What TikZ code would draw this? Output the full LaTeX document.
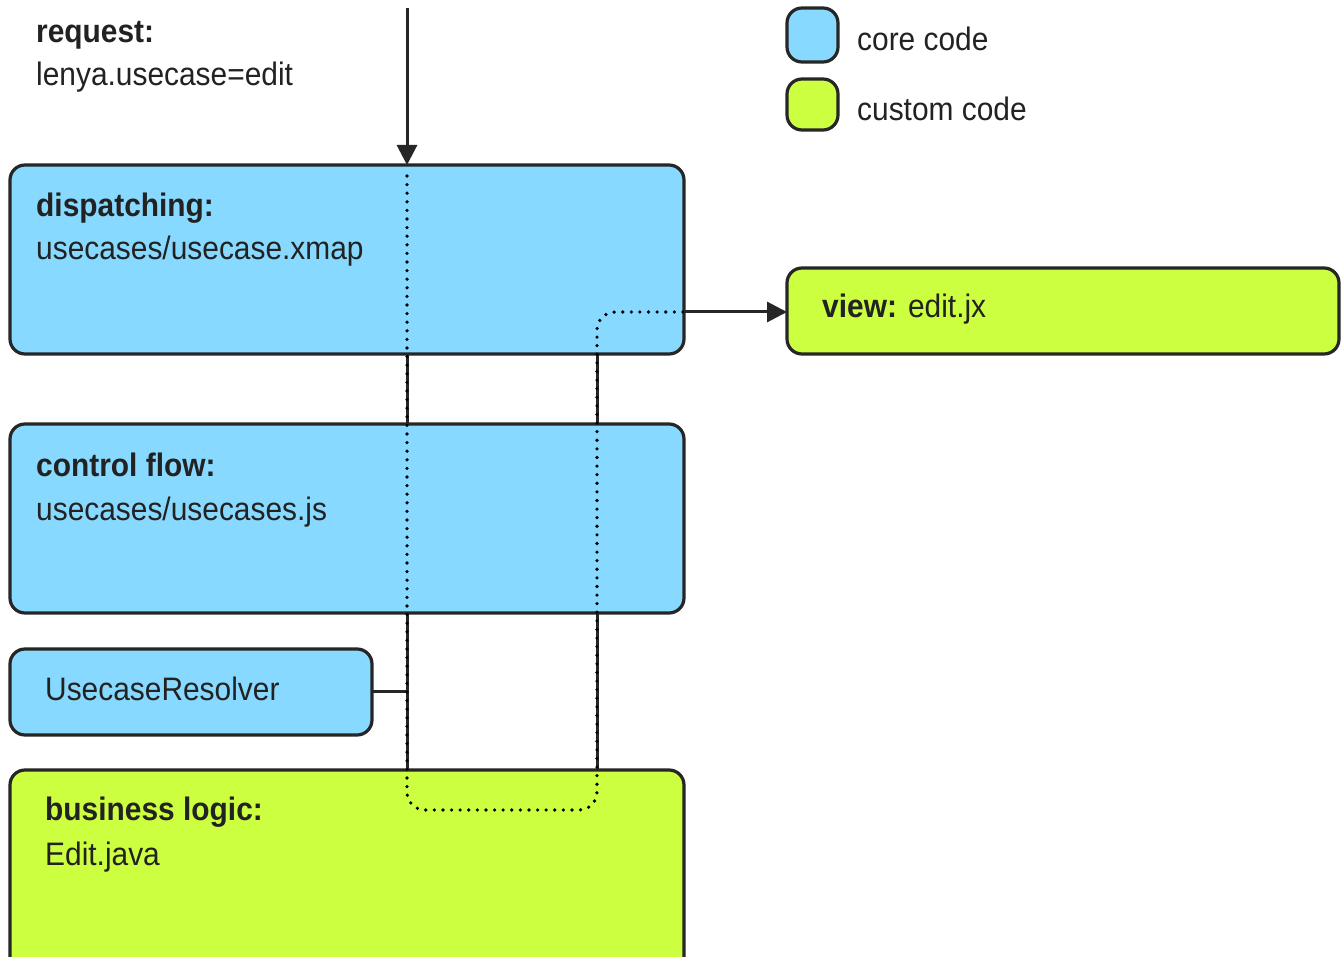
\documentclass[tikz,border=0pt]{standalone}
\usepackage{fontspec}
\setmainfont{Liberation Sans}[FakeStretch=0.92]
\usetikzlibrary{arrows.meta}
\definecolor{coreblue}{HTML}{88D9FF}
\definecolor{customgreen}{HTML}{CCFF3F}
\definecolor{txt}{HTML}{222222}
\tikzset{
  box/.style={draw=black!85, line width=3.2pt, rounded corners=15pt},
  core/.style={box, fill=coreblue},
  custom/.style={box, fill=customgreen},
  lbl/.style={anchor=base west, inner sep=0pt, text=txt, font=\fontsize{32.5}{38}\selectfont},
  conn/.style={draw=black!85, line width=3pt},
  dots/.style={draw=black, line width=3.6pt, line cap=round, dash pattern=on 0pt off 8.6pt},
  arr/.style={conn, -{Triangle[length=20pt,width=20pt]}}
}
\begin{document}
\begin{tikzpicture}[x=1pt,y=-1pt]
\useasboundingbox (0,0) rectangle (1341,957);
\fill[white] (0,0) rectangle (1341,957);
% connector anchor points
\coordinate (top) at (407,8);
\coordinate (j1) at (407,691);
% solid lines behind boxes
\draw[conn] (407,354) -- (407,770);
\draw[conn] (597,354) -- (597,770);
\draw[conn] (372,691) -- (j1);
% boxes
\path[core] (10,165) rectangle (684,354) node[midway] (disp) {};
\path[core] (10,424) rectangle (684,613) node[midway] (ctrl) {};
\path[core] (10,649) rectangle (372,735) node[midway] (res) {};
\path[custom] (10,770) rectangle (684,985) node[midway] (biz) {};
\path[custom] (787,268) rectangle (1339,354) node[midway] (view) {};
\path[core] (787,8) rectangle (838,62) node[midway] (lcore) {};
\path[custom] (787,79) rectangle (838,130) node[midway] (lcust) {};
% request arrow
\draw[arr] (top) -- (407,165);
% dotted path through boxes
\draw[dots, rounded corners=18pt] (407,176) -- (407,810) -- (597,810) -- (597,312) -- (684,312);
% arrow to view
\draw[arr] (684,312) -- (787,312);
% texts
\node[lbl] (reqa) at (36,43) {\textbf{request:}};
\node[lbl] (reqb) at (36,86) {lenya.usecase=edit};
\node[lbl] (da) at (36,217) {\textbf{dispatching:}};
\node[lbl] (db) at (36,260) {usecases/usecase.xmap};
\node[lbl] (ca) at (36,476) {\textbf{control flow:}};
\node[lbl] (cb) at (36,520) {usecases/usecases.js};
\node[lbl] (ra) at (45,700) {UsecaseResolver};
\node[lbl] (ba) at (45,820) {\textbf{business logic:}};
\node[lbl] (bb) at (45,865) {Edit.java};
\node[lbl] (va) at (822,318) {\textbf{view:} edit.jx};
\node[lbl] (la) at (857,51) {core code};
\node[lbl] (lb) at (857,121) {custom code};
\end{tikzpicture}
\end{document}
